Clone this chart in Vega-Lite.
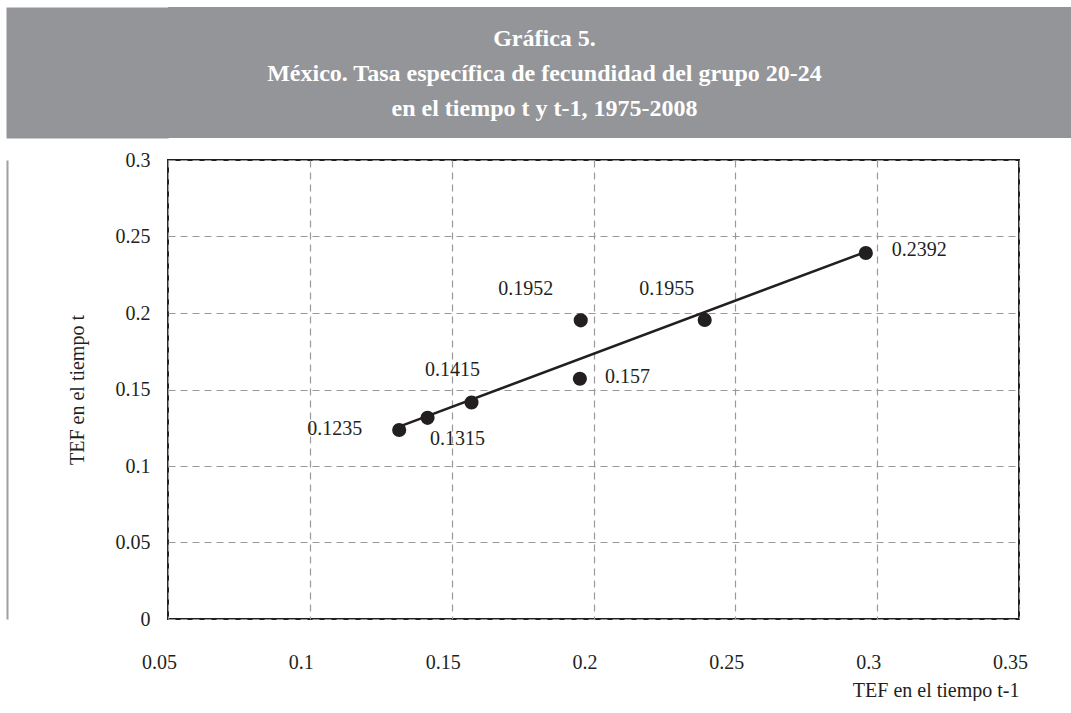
{
  "$schema": "https://vega.github.io/schema/vega-lite/v6.json",
  "background": "white",
  "padding": {"left": 6, "top": 7, "right": 0, "bottom": 0},
  "config": {
    "font": "Liberation Serif",
    "concat": {"spacing": 0},
    "axis": {"labelFont": "Liberation Serif", "titleFont": "Liberation Serif", "labelColor": "#231f20", "titleColor": "#231f20", "titleFontWeight": "normal"}
  },
  "datasets": {
    "titulo": [
      {"linea": 1, "texto": "Gráfica 5."},
      {"linea": 2, "texto": "México. Tasa específica de fecundidad del grupo 20-24"},
      {"linea": 3, "texto": "en el tiempo t y t-1, 1975-2008"}
    ],
    "puntos": [
      {"t1": 0.1315, "t": 0.1235},
      {"t1": 0.1415, "t": 0.1315},
      {"t1": 0.157, "t": 0.1415},
      {"t1": 0.1952, "t": 0.157},
      {"t1": 0.1955, "t": 0.1952},
      {"t1": 0.2392, "t": 0.1955},
      {"t1": 0.296, "t": 0.2392}
    ],
    "tendencia": [
      {"t1": 0.1315, "t": 0.1257},
      {"t1": 0.296, "t": 0.24}
    ]
  },
  "spacing": 11,
  "vconcat": [
    {
      "width": 903,
      "height": 131,
      "view": {"fill": "#939598", "stroke": null},
      "data": {"name": "titulo"},
      "mark": {"type": "text", "font": "Liberation Serif", "fontWeight": "bold", "fontSize": 24, "color": "white", "baseline": "middle", "dx": -75, "dy": 1.5},
      "encoding": {
        "y": {
          "field": "linea", "type": "ordinal",
          "scale": {"padding": 0.86},
          "axis": {"orient": "left", "offset": 81, "domain": true, "domainColor": "#939598", "domainWidth": 162, "domainCap": "butt", "ticks": false, "labels": false, "grid": false, "title": null}
        },
        "text": {"field": "texto"}
      }
    },
    {
      "width": 851,
      "height": 459,
      "view": {"stroke": "#231f20", "strokeWidth": 2},
      "layer": [
        {
          "encoding": {
            "x": {
              "field": "t1", "type": "quantitative",
              "scale": {"domain": [0.05, 0.35], "nice": false, "zero": false},
              "axis": {
                "values": [0.05, 0.1, 0.15, 0.2, 0.25, 0.3, 0.35],
                "format": "~g",
                "title": "TEF en el tiempo t-1",
                "titleAnchor": "end",
                "titleFontSize": 20,
                "titlePadding": 8,
                "labelFontSize": 20,
                "labelPadding": 33,
                "labelOffset": -9,
                "labelFlush": false,
                "ticks": false,
                "domain": false,
                "grid": true,
                "gridColor": "#999999",
                "gridDash": [7, 5],
                "gridWidth": 1.2
              }
            },
            "y": {
              "field": "t", "type": "quantitative",
              "scale": {"domain": [0, 0.3], "nice": false},
              "axis": {
                "values": [0, 0.05, 0.1, 0.15, 0.2, 0.25, 0.3],
                "format": "~g",
                "title": "TEF en el tiempo t",
                "titleFontSize": 20,
                "titlePadding": 28,
                "labelFontSize": 20,
                "labelPadding": 18,
                "labelFlush": false,
                "ticks": false,
                "domain": false,
                "grid": true,
                "gridColor": "#999999",
                "gridDash": [7, 5],
                "gridWidth": 1.2
              }
            }
          },
          "layer": [
            {
              "data": {"name": "tendencia"},
              "mark": {"type": "line", "color": "#231f20", "strokeWidth": 2.5}
            },
            {
              "data": {"name": "puntos"},
              "mark": {"type": "circle", "size": 200, "color": "#231f20", "opacity": 1}
            },
            {
              "data": {"name": "puntos"},
              "transform": [{"filter": "datum.t === 0.1235"}],
              "mark": {"type": "text", "fontSize": 20, "color": "#231f20", "align": "right", "baseline": "middle", "dx": -37, "dy": -1},
              "encoding": {"text": {"field": "t", "type": "quantitative", "format": ".4~f"}}
            },
            {
              "data": {"name": "puntos"},
              "transform": [{"filter": "datum.t === 0.1315"}],
              "mark": {"type": "text", "fontSize": 20, "color": "#231f20", "align": "center", "baseline": "middle", "dx": 30, "dy": 21},
              "encoding": {"text": {"field": "t", "type": "quantitative", "format": ".4~f"}}
            },
            {
              "data": {"name": "puntos"},
              "transform": [{"filter": "datum.t === 0.1415"}],
              "mark": {"type": "text", "fontSize": 20, "color": "#231f20", "align": "center", "baseline": "middle", "dx": -19, "dy": -33},
              "encoding": {"text": {"field": "t", "type": "quantitative", "format": ".4~f"}}
            },
            {
              "data": {"name": "puntos"},
              "transform": [{"filter": "datum.t === 0.157"}],
              "mark": {"type": "text", "fontSize": 20, "color": "#231f20", "align": "left", "baseline": "middle", "dx": 25, "dy": -2},
              "encoding": {"text": {"field": "t", "type": "quantitative", "format": ".4~f"}}
            },
            {
              "data": {"name": "puntos"},
              "transform": [{"filter": "datum.t === 0.1952"}],
              "mark": {"type": "text", "fontSize": 20, "color": "#231f20", "align": "center", "baseline": "middle", "dx": -55, "dy": -31},
              "encoding": {"text": {"field": "t", "type": "quantitative", "format": ".4~f"}}
            },
            {
              "data": {"name": "puntos"},
              "transform": [{"filter": "datum.t === 0.1955"}],
              "mark": {"type": "text", "fontSize": 20, "color": "#231f20", "align": "center", "baseline": "middle", "dx": -38, "dy": -31},
              "encoding": {"text": {"field": "t", "type": "quantitative", "format": ".4~f"}}
            },
            {
              "data": {"name": "puntos"},
              "transform": [{"filter": "datum.t === 0.2392"}],
              "mark": {"type": "text", "fontSize": 20, "color": "#231f20", "align": "left", "baseline": "middle", "dx": 26, "dy": -3},
              "encoding": {"text": {"field": "t", "type": "quantitative", "format": ".4~f"}}
            }
          ]
        },
        {
          "data": {"name": "puntos"},
          "mark": {"type": "point", "opacity": 0},
          "encoding": {
            "y": {
              "field": "t", "type": "quantitative",
              "scale": {"domain": [0, 0.3], "nice": false},
              "axis": {"orient": "left", "offset": 161, "domain": true, "domainColor": "#a0a0a0", "domainWidth": 2, "ticks": false, "labels": false, "grid": false, "title": null}
            }
          }
        }
      ],
      "resolve": {"scale": {"y": "independent"}, "axis": {"y": "independent"}}
    }
  ]
}
